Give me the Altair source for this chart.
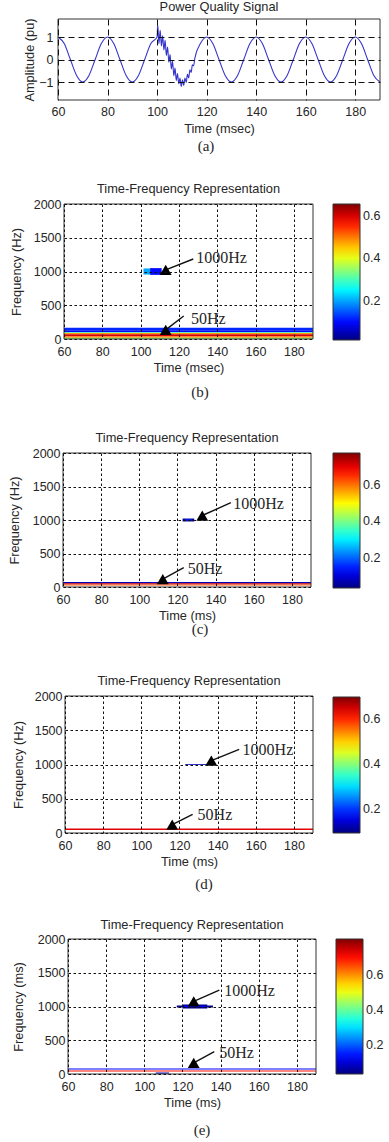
import altair as alt
import pandas as pd

SANS = "Liberation Sans"
SERIF = "Liberation Serif"
INK = "#262626"

# ---------------- shared ticks / colormap ----------------
X_TICKS = [60, 80, 100, 120, 140, 160, 180]
Y_TICKS_A = [-1, 0, 1]
Y_TICKS_TF = [0, 500, 1000, 1500, 2000]
CBAR_TICKS = [0.2, 0.4, 0.6]
JET = ["#00007f", "#0000ff", "#00ffff", "#ffff00", "#ff0000", "#7f0000"]
JET_POS = [0, 0.125, 0.375, 0.625, 0.875, 1]

# ---------------- panel (a): power quality signal ----------------
TIME_A = [60, 62.5, 65, 67.5, 70, 72.5, 75, 77.5, 80, 82.5, 85, 87.5, 90, 92.5, 95, 97.5,
          100, 100.25, 100.75, 101.25, 101.75, 102.25, 102.75, 103.25, 103.75, 104.25, 104.75,
          105.25, 105.75, 106.25, 106.75, 107.25, 107.75, 108.25, 108.75, 109.25, 109.75,
          110.25, 110.75, 111.25, 111.75, 112.25, 112.75, 113.25, 113.75, 114.25, 114.75, 115.25,
          117.5, 120, 122.5, 125, 127.5, 130, 132.5, 135, 137.5, 140, 142.5, 145, 147.5, 150,
          152.5, 155, 157.5, 160, 162.5, 165, 167.5, 170, 172.5, 175, 177.5, 180, 182.5, 185,
          187.5, 190]
AMP_A = [1, 0.71, 0, -0.71, -1, -0.71, 0, 0.71, 1, 0.71, 0, -0.71, -1, -0.71, 0, 0.71,
         1.0, 1.55, 0.7, 1.3, 0.6, 1.05, 0.42, 0.85, 0.18, 0.55, -0.12, 0.22, -0.42, -0.08,
         -0.72, -0.38, -0.93, -0.62, -1.08, -0.82, -1.2, -0.9, -1.15, -0.82, -1.02, -0.66,
         -0.82, -0.46, -0.58, -0.24, -0.28, 0.06,
         0.71, 1, 0.71, 0, -0.71, -1, -0.71, 0, 0.71, 1, 0.71, 0, -0.71, -1,
         -0.71, 0, 0.71, 1, 0.71, 0, -0.71, -1, -0.71, 0, 0.71, 1, 0.71, 0,
         -0.71, -1]

# ---------------- panels (b)-(e): time-frequency cells ----------------
B_T0 = [60, 60, 60, 60, 60, 60, 60, 101.5, 105]
B_T1 = [190, 190, 190, 190, 190, 190, 190, 106, 111]
B_F0 = [130, 100, 90, 72, 40, 20, 0, 955, 950]
B_F1 = [165, 130, 100, 90, 72, 40, 20, 1045, 1050]
B_V = [0.12, 0.1, 0.3, 0.48, 0.6, 0.5, 0.34, 0.2, 0.1]

C_T0 = [60, 60, 60, 122.7, 124]
C_T1 = [190, 190, 190, 128.8, 127.5]
C_F0 = [55, 38, 22, 978, 990]
C_F1 = [75, 55, 35, 1022, 1010]
C_V = [0.08, 0.72, 0.62, 0.05, 0.15]

D_T0 = [60, 123]
D_T1 = [190, 135]
D_F0 = [42, 994]
D_F1 = [66, 1006]
D_V = [0.64, 0.13]

E_T0 = [60, 60, 106, 117, 120, 121]
E_T1 = [190, 190, 113, 136, 133, 132]
E_F0 = [66, 36, 5, 985, 972, 990]
E_F1 = [80, 52, 22, 1015, 1028, 1010]
E_V = [0.13, 0.7, 0.08, 0.04, 0.05, 0.13]

# colour-bar ranges
B_CLIM = [0.015, 0.656]
C_CLIM = [0.035, 0.775]
D_CLIM = [0.093, 0.698]
E_CLIM = [0.034, 0.806]

# arrow annotations: triangle position, arrow tail, label position
LABELS = ["1000Hz", "50Hz"]
B_TRI_T = [113.1, 113.1]; B_TRI_F = [1025, 136]
B_END_T = [127.5, 122.5]; B_END_F = [1185, 340]
B_LAB_T = [129, 126.3]; B_LAB_F = [1195, 296]

C_TRI_T = [133, 112.3]; C_TRI_F = [1067, 119]
C_END_T = [148, 123.3]; C_END_F = [1258, 288]
C_LAB_T = [149.2, 125.4]; C_LAB_F = [1234, 264]

D_TRI_T = [136.7, 116.2]; D_TRI_F = [1058, 121]
D_END_T = [151.3, 126.9]; D_END_F = [1222, 273]
D_LAB_T = [153.1, 129.5]; D_LAB_F = [1207, 258]

E_TRI_T = [125.9, 125.9]; E_TRI_F = [1077, 166]
E_END_T = [139.3, 136.7]; E_END_F = [1244, 330]
E_LAB_T = [141.9, 139.3]; E_LAB_F = [1234, 307]

TITLE_A = "Power Quality Signal"
TITLE_TF = "Time-Frequency Representation"
CAPTIONS = ["(a)", "(b)", "(c)", "(d)", "(e)"]

GRID_INK = "#111"
FRAME_INK = "#333"
ORIGIN = 57      # common left of every panel group (pixels from page edge)
PANEL_W = 322


def text_layer(txt, x, y, size, font):
    return alt.Chart(pd.DataFrame({"t": [txt]})).mark_text(
        font=font, fontSize=size, color=INK, align="center", baseline="middle"
    ).encode(text="t:N", x=alt.value(x), y=alt.value(y))


def spacer(top, bottom):
    return alt.Chart(pd.DataFrame({"s": [0]})).mark_rule(opacity=0).encode(
        x=alt.value(-ORIGIN), y=alt.value(top), y2=alt.value(bottom))


def frame(r0, r1, h):
    return alt.Chart(pd.DataFrame({"s": [0]})).mark_rect(
        filled=False, stroke=FRAME_INK, strokeWidth=1
    ).encode(x=alt.value(r0), x2=alt.value(r1), y=alt.value(0), y2=alt.value(h))


def x_axis(title, lp, title_y, dash):
    return alt.Axis(values=X_TICKS, title=title, labelPadding=lp, ticks=False, tickSize=0,
                    labelFlush=False, labelOverlap=False, titleY=title_y, format="d",
                    titleBaseline="middle", grid=True, gridDash=dash, gridColor=GRID_INK,
                    gridOpacity=1, gridWidth=1, domain=False, zindex=1,
                    labelFontSize=12.5, titleFontSize=12.8)


def y_axis(title, values, lp, title_x, dash, off):
    return alt.Axis(values=values, title=title, labelPadding=lp, ticks=False, tickSize=0,
                    labelOverlap=False, titleX=title_x, titleAngle=270, format="d",
                    titleBaseline="middle", grid=True, gridDash=dash, gridColor=GRID_INK,
                    gridOpacity=1, gridWidth=1, domain=False, zindex=1, offset=off,
                    labelFontSize=12.5, titleFontSize=12.8)


# ---------------- panel (a) ----------------
A_H = 81
xs_a = alt.Scale(domain=[60, 190], range=[0, PANEL_W], nice=False)
ys_a = alt.Scale(domain=[-1.8, 1.8], nice=False)
wave = alt.Chart(pd.DataFrame({"t": TIME_A, "a": AMP_A})).mark_line(
    color="#3434cc", strokeWidth=1.1, interpolate="monotone", clip=True
).encode(
    x=alt.X("t:Q", scale=xs_a, axis=x_axis("Time (msec)", 5, 28, [6, 4])),
    y=alt.Y("a:Q", scale=ys_a,
            axis=y_axis("Amplitude (pu)", Y_TICKS_A, 5, -29, [6, 4], 0)),
)
panel_a = alt.layer(
    wave,
    frame(0, PANEL_W, A_H),
    spacer(-18, 150),
    text_layer(TITLE_A, PANEL_W / 2, -11.6, 12.8, SANS),
    text_layer(CAPTIONS[0], 148, 127, 15, SERIF),
).properties(width=PANEL_W, height=A_H)


def tf_panel(t0, t1, f0, f1, vals, clim, tri_t, tri_f, end_t, end_f, lab_t, lab_f,
             left, right, h, top, bottom, title_y, ytitle, xtitle, ytitle_x, caption,
             cap_xy, cbar_x, cbar_y, cbar_len, field):
    r0, r1 = left - ORIGIN, right - ORIGIN
    xs = alt.Scale(domain=[60, 190], range=[r0, r1], nice=False)
    ys = alt.Scale(domain=[0, 2000], nice=False)
    xa = x_axis(xtitle, 6, 28, [2.5, 2.5])
    ya = y_axis(ytitle, Y_TICKS_TF, 3, ytitle_x, [2.5, 2.5], -r0)
    lo, hi = clim
    stops = [lo + p * (hi - lo) for p in JET_POS]
    cells = pd.DataFrame({"t0": t0, "t1": t1, "f0": f0, "f1": f1, field: vals})
    rect = alt.Chart(cells).mark_rect().encode(
        x=alt.X("t0:Q", scale=xs, axis=xa),
        x2="t1:Q",
        y=alt.Y("f0:Q", scale=ys, axis=ya),
        y2="f1:Q",
        color=alt.Color(f"{field}:Q",
                        scale=alt.Scale(domain=stops, range=JET, interpolate="rgb", clamp=True),
                        legend=alt.Legend(orient="none", legendX=cbar_x - ORIGIN,
                                          legendY=cbar_y, direction="vertical", title=None,
                                          gradientLength=cbar_len, gradientThickness=27,
                                          gradientStrokeColor="#333", gradientStrokeWidth=1,
                                          values=CBAR_TICKS, labelFont=SANS,
                                          labelFontSize=12.5, labelColor=INK, labelOffset=3)),
    )
    arr = pd.DataFrame({"tt": tri_t, "tf": tri_f, "et": end_t, "ef": end_f,
                        "lt": lab_t, "lf": lab_f, "lab": LABELS})
    base = alt.Chart(arr)
    rule = base.mark_rule(color="#111", strokeWidth=1.4).encode(
        x=alt.X("tt:Q", scale=xs, axis=xa), y=alt.Y("tf:Q", scale=ys, axis=ya),
        x2="et:Q", y2="ef:Q")
    tri = base.mark_point(shape="triangle-up", filled=True, size=140, color="#000",
                          opacity=1).encode(
        x=alt.X("tt:Q", scale=xs, axis=xa), y=alt.Y("tf:Q", scale=ys, axis=ya))
    lab = base.mark_text(font=SERIF, fontSize=16, color=INK, align="left",
                         baseline="middle").encode(
        x=alt.X("lt:Q", scale=xs, axis=xa), y=alt.Y("lf:Q", scale=ys, axis=ya), text="lab:N")
    return alt.layer(
        rect, frame(r0, r1, h), spacer(top, bottom), rule, tri, lab,
        text_layer(TITLE_TF, (r0 + r1) / 2, title_y, 12.8, SANS),
        text_layer(caption, cap_xy[0] - ORIGIN, cap_xy[1], 15, SERIF),
    ).properties(width=PANEL_W, height=h)


panel_b = tf_panel(B_T0, B_T1, B_F0, B_F1, B_V, B_CLIM, B_TRI_T, B_TRI_F, B_END_T, B_END_F,
                   B_LAB_T, B_LAB_F, 63, 312, 135, -33, 210, -15, "Frequency (Hz)",
                   "Time (msec)", -48, CAPTIONS[1], (199, 188), 332, 0, 136, "vb")
panel_c = tf_panel(C_T0, C_T1, C_F0, C_F1, C_V, C_CLIM, C_TRI_T, C_TRI_F, C_END_T, C_END_F,
                   C_LAB_T, C_LAB_F, 62, 310, 134, -37, 196, -15, "Frequency (Hz)",
                   "Time (ms)", -49, CAPTIONS[2], (199, 176), 332, 0, 135, "vc")
panel_d = tf_panel(D_T0, D_T1, D_F0, D_F1, D_V, D_CLIM, D_TRI_T, D_TRI_F, D_END_T, D_END_F,
                   D_LAB_T, D_LAB_F, 64, 312, 137, -45, 207, -15, "Frequency (Hz)",
                   "Time (ms)", -47, CAPTIONS[3], (203, 188), 332, 1, 136, "vd")
panel_e = tf_panel(E_T0, E_T1, E_F0, E_F1, E_V, E_CLIM, E_TRI_T, E_TRI_F, E_END_T, E_END_F,
                   E_LAB_T, E_LAB_F, 67, 315, 135, -34, 201, -14, "Frequency (ms)",
                   "Time (ms)", -50, CAPTIONS[4], (201, 191), 335, 0, 135, "ve")

chart = alt.vconcat(panel_a, panel_b, panel_c, panel_d, panel_e, spacing=0).resolve_scale(
    color="independent", x="independent", y="independent"
).resolve_legend(color="independent").properties(
    padding={"left": 0, "top": 0, "right": 0, "bottom": 0},
    background="white",
).configure_view(stroke="transparent").configure_axis(
    labelFont=SANS, titleFont=SANS, labelColor=INK, titleColor=INK, titleFontWeight="normal"
)

chart.save("out.html", embed_options={"renderer": "svg", "actions": False})
